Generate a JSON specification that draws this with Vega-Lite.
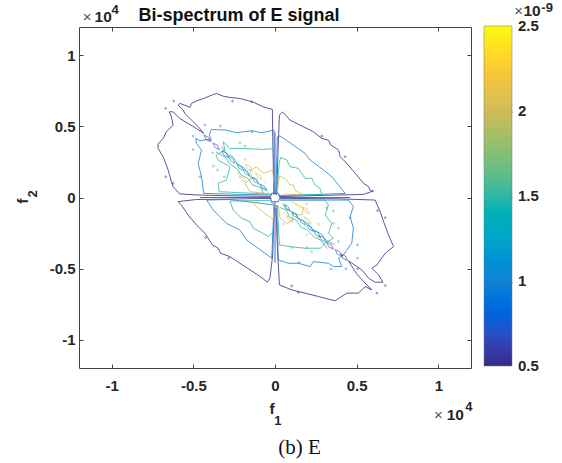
{
"$schema":"https://vega.github.io/schema/vega-lite/v6.json",
"width":392,"height":341,
"autosize":{"type":"none"},
"padding":{"left":79,"top":27,"right":91,"bottom":95},
"background":"white",
"config":{"view":{"stroke":"#444444","strokeWidth":1},"font":"Liberation Sans"},
"datasets":{
"contours":[
{"g":"tl0","l":0.5,"x":-0.006,"y":0.018},{"g":"tl0","l":0.5,"x":-0.01,"y":0.193},{"g":"tl0","l":0.5,"x":-0.014,"y":0.428},{"g":"tl0","l":0.5,"x":-0.016,"y":0.62},{"g":"tl0","l":0.5,"x":-0.072,"y":0.638},{"g":"tl0","l":0.5,"x":-0.137,"y":0.673},{"g":"tl0","l":0.5,"x":-0.215,"y":0.697},{"g":"tl0","l":0.5,"x":-0.276,"y":0.704},{"g":"tl0","l":0.5,"x":-0.317,"y":0.713},{"g":"tl0","l":0.5,"x":-0.358,"y":0.732},{"g":"tl0","l":0.5,"x":-0.389,"y":0.72},{"g":"tl0","l":0.5,"x":-0.436,"y":0.697},{"g":"tl0","l":0.5,"x":-0.481,"y":0.68},{"g":"tl0","l":0.5,"x":-0.511,"y":0.662},{"g":"tl0","l":0.5,"x":-0.521,"y":0.634},{"g":"tl0","l":0.5,"x":-0.552,"y":0.65},{"g":"tl0","l":0.5,"x":-0.583,"y":0.662},{"g":"tl0","l":0.5,"x":-0.593,"y":0.65},{"g":"tl0","l":0.5,"x":-0.562,"y":0.615},{"g":"tl0","l":0.5,"x":-0.552,"y":0.591},{"g":"tl0","l":0.5,"x":-0.511,"y":0.545},{"g":"tl0","l":0.5,"x":-0.47,"y":0.498},{"g":"tl0","l":0.5,"x":-0.436,"y":0.451},{"g":"tl0","l":0.5,"x":-0.481,"y":0.486},{"g":"tl0","l":0.5,"x":-0.532,"y":0.521},{"g":"tl0","l":0.5,"x":-0.583,"y":0.556},{"g":"tl0","l":0.5,"x":-0.624,"y":0.603},{"g":"tl0","l":0.5,"x":-0.648,"y":0.603},{"g":"tl0","l":0.5,"x":-0.634,"y":0.568},{"g":"tl0","l":0.5,"x":-0.624,"y":0.509},{"g":"tl0","l":0.5,"x":-0.665,"y":0.463},{"g":"tl0","l":0.5,"x":-0.685,"y":0.416},{"g":"tl0","l":0.5,"x":-0.716,"y":0.376},{"g":"tl0","l":0.5,"x":-0.716,"y":0.346},{"g":"tl0","l":0.5,"x":-0.685,"y":0.287},{"g":"tl0","l":0.5,"x":-0.654,"y":0.193},{"g":"tl0","l":0.5,"x":-0.634,"y":0.111},{"g":"tl0","l":0.5,"x":-0.624,"y":0.076},{"g":"tl0","l":0.5,"x":-0.583,"y":0.025},{"g":"tl0","l":0.5,"x":-0.481,"y":0.018},{"g":"tl0","l":0.5,"x":-0.276,"y":0.012},{"g":"tl0","l":0.5,"x":-0.031,"y":0.008},
{"g":"tr0","l":0.5,"x":0.01,"y":0.018},{"g":"tr0","l":0.5,"x":0.018,"y":0.31},{"g":"tr0","l":0.5,"x":0.027,"y":0.58},{"g":"tr0","l":0.5,"x":0.047,"y":0.603},{"g":"tr0","l":0.5,"x":0.092,"y":0.545},{"g":"tr0","l":0.5,"x":0.174,"y":0.498},{"g":"tr0","l":0.5,"x":0.235,"y":0.463},{"g":"tr0","l":0.5,"x":0.286,"y":0.416},{"g":"tr0","l":0.5,"x":0.327,"y":0.404},{"g":"tr0","l":0.5,"x":0.342,"y":0.369},{"g":"tr0","l":0.5,"x":0.389,"y":0.334},{"g":"tr0","l":0.5,"x":0.399,"y":0.287},{"g":"tr0","l":0.5,"x":0.44,"y":0.24},{"g":"tr0","l":0.5,"x":0.491,"y":0.17},{"g":"tr0","l":0.5,"x":0.542,"y":0.1},{"g":"tr0","l":0.5,"x":0.573,"y":0.076},{"g":"tr0","l":0.5,"x":0.583,"y":0.048},{"g":"tr0","l":0.5,"x":0.603,"y":0.046},{"g":"tr0","l":0.5,"x":0.542,"y":0.022},{"g":"tr0","l":0.5,"x":0.174,"y":0.011},{"g":"tr0","l":0.5,"x":0.031,"y":0.006},
{"g":"bl0","l":0.5,"x":-0.02,"y":-0.006},{"g":"bl0","l":0.5,"x":-0.276,"y":-0.011},{"g":"bl0","l":0.5,"x":-0.481,"y":-0.014},{"g":"bl0","l":0.5,"x":-0.593,"y":-0.029},{"g":"bl0","l":0.5,"x":-0.573,"y":-0.053},{"g":"bl0","l":0.5,"x":-0.532,"y":-0.123},{"g":"bl0","l":0.5,"x":-0.481,"y":-0.193},{"g":"bl0","l":0.5,"x":-0.429,"y":-0.252},{"g":"bl0","l":0.5,"x":-0.382,"y":-0.334},{"g":"bl0","l":0.5,"x":-0.348,"y":-0.357},{"g":"bl0","l":0.5,"x":-0.333,"y":-0.392},{"g":"bl0","l":0.5,"x":-0.276,"y":-0.416},{"g":"bl0","l":0.5,"x":-0.184,"y":-0.486},{"g":"bl0","l":0.5,"x":-0.112,"y":-0.54},{"g":"bl0","l":0.5,"x":-0.072,"y":-0.573},{"g":"bl0","l":0.5,"x":-0.047,"y":-0.596},{"g":"bl0","l":0.5,"x":-0.031,"y":-0.568},{"g":"bl0","l":0.5,"x":-0.014,"y":-0.404},{"g":"bl0","l":0.5,"x":-0.006,"y":-0.076},
{"g":"br0","l":0.5,"x":0.006,"y":-0.076},{"g":"br0","l":0.5,"x":0.014,"y":-0.334},{"g":"br0","l":0.5,"x":0.027,"y":-0.615},{"g":"br0","l":0.5,"x":0.102,"y":-0.65},{"g":"br0","l":0.5,"x":0.184,"y":-0.673},{"g":"br0","l":0.5,"x":0.266,"y":-0.697},{"g":"br0","l":0.5,"x":0.368,"y":-0.727},{"g":"br0","l":0.5,"x":0.44,"y":-0.673},{"g":"br0","l":0.5,"x":0.511,"y":-0.673},{"g":"br0","l":0.5,"x":0.552,"y":-0.627},{"g":"br0","l":0.5,"x":0.593,"y":-0.65},{"g":"br0","l":0.5,"x":0.542,"y":-0.591},{"g":"br0","l":0.5,"x":0.497,"y":-0.533},{"g":"br0","l":0.5,"x":0.45,"y":-0.446},{"g":"br0","l":0.5,"x":0.501,"y":-0.486},{"g":"br0","l":0.5,"x":0.532,"y":-0.51},{"g":"br0","l":0.5,"x":0.573,"y":-0.568},{"g":"br0","l":0.5,"x":0.613,"y":-0.596},{"g":"br0","l":0.5,"x":0.661,"y":-0.596},{"g":"br0","l":0.5,"x":0.634,"y":-0.545},{"g":"br0","l":0.5,"x":0.593,"y":-0.498},{"g":"br0","l":0.5,"x":0.624,"y":-0.474},{"g":"br0","l":0.5,"x":0.675,"y":-0.392},{"g":"br0","l":0.5,"x":0.726,"y":-0.346},{"g":"br0","l":0.5,"x":0.695,"y":-0.264},{"g":"br0","l":0.5,"x":0.665,"y":-0.17},{"g":"br0","l":0.5,"x":0.644,"y":-0.1},{"g":"br0","l":0.5,"x":0.613,"y":-0.018},{"g":"br0","l":0.5,"x":0.378,"y":-0.009},{"g":"br0","l":0.5,"x":0.031,"y":-0.006},
{"g":"tl1","l":1,"x":-0.006,"y":0.029},{"g":"tl1","l":1,"x":-0.006,"y":0.474},{"g":"tl1","l":1,"x":-0.082,"y":0.456},{"g":"tl1","l":1,"x":-0.143,"y":0.47},{"g":"tl1","l":1,"x":-0.235,"y":0.456},{"g":"tl1","l":1,"x":-0.297,"y":0.474},{"g":"tl1","l":1,"x":-0.389,"y":0.479},{"g":"tl1","l":1,"x":-0.403,"y":0.439},{"g":"tl1","l":1,"x":-0.389,"y":0.404},{"g":"tl1","l":1,"x":-0.415,"y":0.409},{"g":"tl1","l":1,"x":-0.46,"y":0.399},{"g":"tl1","l":1,"x":-0.485,"y":0.416},{"g":"tl1","l":1,"x":-0.481,"y":0.381},{"g":"tl1","l":1,"x":-0.45,"y":0.334},{"g":"tl1","l":1,"x":-0.47,"y":0.24},{"g":"tl1","l":1,"x":-0.45,"y":0.146},{"g":"tl1","l":1,"x":-0.436,"y":0.029},{"g":"tl1","l":1,"x":-0.215,"y":0.022},{"g":"tl1","l":1,"x":-0.02,"y":0.018},
{"g":"tr1","l":1,"x":0.006,"y":0.018},{"g":"tr1","l":1,"x":0.014,"y":0.428},{"g":"tr1","l":1,"x":0.031,"y":0.433},{"g":"tr1","l":1,"x":0.112,"y":0.369},{"g":"tr1","l":1,"x":0.184,"y":0.31},{"g":"tr1","l":1,"x":0.215,"y":0.264},{"g":"tr1","l":1,"x":0.276,"y":0.212},{"g":"tr1","l":1,"x":0.348,"y":0.146},{"g":"tr1","l":1,"x":0.43,"y":0.029},{"g":"tr1","l":1,"x":0.174,"y":0.018},{"g":"tr1","l":1,"x":0.02,"y":0.014},
{"g":"bl1","l":1,"x":-0.419,"y":-0.018},{"g":"bl1","l":1,"x":-0.378,"y":-0.088},{"g":"bl1","l":1,"x":-0.297,"y":-0.182},{"g":"bl1","l":1,"x":-0.215,"y":-0.229},{"g":"bl1","l":1,"x":-0.174,"y":-0.299},{"g":"bl1","l":1,"x":-0.102,"y":-0.358},{"g":"bl1","l":1,"x":-0.02,"y":-0.427},{"g":"bl1","l":1,"x":-0.006,"y":-0.053},{"g":"bl1","l":1,"x":-0.276,"y":-0.014},{"g":"bl1","l":1,"x":-0.419,"y":-0.018},
{"g":"br1","l":1,"x":0.01,"y":-0.053},{"g":"br1","l":1,"x":0.02,"y":-0.439},{"g":"br1","l":1,"x":0.082,"y":-0.463},{"g":"br1","l":1,"x":0.143,"y":-0.463},{"g":"br1","l":1,"x":0.215,"y":-0.486},{"g":"br1","l":1,"x":0.235,"y":-0.451},{"g":"br1","l":1,"x":0.327,"y":-0.463},{"g":"br1","l":1,"x":0.358,"y":-0.486},{"g":"br1","l":1,"x":0.409,"y":-0.486},{"g":"br1","l":1,"x":0.389,"y":-0.427},{"g":"br1","l":1,"x":0.419,"y":-0.404},{"g":"br1","l":1,"x":0.47,"y":-0.322},{"g":"br1","l":1,"x":0.48,"y":-0.217},{"g":"br1","l":1,"x":0.46,"y":-0.135},{"g":"br1","l":1,"x":0.48,"y":-0.064},{"g":"br1","l":1,"x":0.45,"y":-0.018},{"g":"br1","l":1,"x":0.03,"y":-0.018},
{"g":"tl2","l":1.5,"x":-0.006,"y":0.345},{"g":"tl2","l":1.5,"x":-0.072,"y":0.338},{"g":"tl2","l":1.5,"x":-0.194,"y":0.345},{"g":"tl2","l":1.5,"x":-0.276,"y":0.345},{"g":"tl2","l":1.5,"x":-0.317,"y":0.392},{"g":"tl2","l":1.5,"x":-0.307,"y":0.333},{"g":"tl2","l":1.5,"x":-0.362,"y":0.298},{"g":"tl2","l":1.5,"x":-0.348,"y":0.263},{"g":"tl2","l":1.5,"x":-0.276,"y":0.216},{"g":"tl2","l":1.5,"x":-0.297,"y":0.123},{"g":"tl2","l":1.5,"x":-0.348,"y":0.1},{"g":"tl2","l":1.5,"x":-0.342,"y":0.041},{"g":"tl2","l":1.5,"x":-0.031,"y":0.024},
{"g":"tr2","l":1.5,"x":0.01,"y":0.025},{"g":"tr2","l":1.5,"x":0.027,"y":0.252},{"g":"tr2","l":1.5,"x":0.035,"y":0.282},{"g":"tr2","l":1.5,"x":0.072,"y":0.264},{"g":"tr2","l":1.5,"x":0.092,"y":0.217},{"g":"tr2","l":1.5,"x":0.143,"y":0.205},{"g":"tr2","l":1.5,"x":0.184,"y":0.135},{"g":"tr2","l":1.5,"x":0.225,"y":0.135},{"g":"tr2","l":1.5,"x":0.245,"y":0.088},{"g":"tr2","l":1.5,"x":0.276,"y":0.064},{"g":"tr2","l":1.5,"x":0.286,"y":0.022},{"g":"tr2","l":1.5,"x":0.092,"y":0.018},
{"g":"bl2","l":1.5,"x":-0.276,"y":-0.025},{"g":"bl2","l":1.5,"x":-0.256,"y":-0.088},{"g":"bl2","l":1.5,"x":-0.204,"y":-0.146},{"g":"bl2","l":1.5,"x":-0.153,"y":-0.17},{"g":"bl2","l":1.5,"x":-0.133,"y":-0.217},{"g":"bl2","l":1.5,"x":-0.092,"y":-0.24},{"g":"bl2","l":1.5,"x":-0.041,"y":-0.275},{"g":"bl2","l":1.5,"x":-0.01,"y":-0.24},{"g":"bl2","l":1.5,"x":-0.006,"y":-0.053},{"g":"bl2","l":1.5,"x":-0.03,"y":-0.02},{"g":"bl2","l":1.5,"x":-0.276,"y":-0.025},
{"g":"br2","l":1.5,"x":0.014,"y":-0.053},{"g":"br2","l":1.5,"x":0.027,"y":-0.334},{"g":"br2","l":1.5,"x":0.092,"y":-0.346},{"g":"br2","l":1.5,"x":0.184,"y":-0.357},{"g":"br2","l":1.5,"x":0.276,"y":-0.357},{"g":"br2","l":1.5,"x":0.307,"y":-0.322},{"g":"br2","l":1.5,"x":0.358,"y":-0.287},{"g":"br2","l":1.5,"x":0.327,"y":-0.252},{"g":"br2","l":1.5,"x":0.348,"y":-0.182},{"g":"br2","l":1.5,"x":0.307,"y":-0.123},{"g":"br2","l":1.5,"x":0.327,"y":-0.053},{"g":"br2","l":1.5,"x":0.307,"y":-0.018},{"g":"br2","l":1.5,"x":0.03,"y":-0.018},
{"g":"tl3","l":2,"x":-0.006,"y":0.088},{"g":"tl3","l":2,"x":-0.014,"y":0.193},{"g":"tl3","l":2,"x":-0.072,"y":0.17},{"g":"tl3","l":2,"x":-0.112,"y":0.216},{"g":"tl3","l":2,"x":-0.153,"y":0.193},{"g":"tl3","l":2,"x":-0.143,"y":0.135},{"g":"tl3","l":2,"x":-0.184,"y":0.1},{"g":"tl3","l":2,"x":-0.153,"y":0.041},{"g":"tl3","l":2,"x":-0.02,"y":0.024},
{"g":"tr3","l":2,"x":0.014,"y":0.029},{"g":"tr3","l":2,"x":0.027,"y":0.151},{"g":"tr3","l":2,"x":0.061,"y":0.135},{"g":"tr3","l":2,"x":0.092,"y":0.088},{"g":"tr3","l":2,"x":0.112,"y":0.088},{"g":"tr3","l":2,"x":0.123,"y":0.053},{"g":"tr3","l":2,"x":0.164,"y":0.022},{"g":"tr3","l":2,"x":0.051,"y":0.018},
{"g":"bl3","l":2,"x":-0.153,"y":-0.018},{"g":"bl3","l":2,"x":-0.102,"y":-0.076},{"g":"bl3","l":2,"x":-0.051,"y":-0.123},{"g":"bl3","l":2,"x":-0.01,"y":-0.151},{"g":"bl3","l":2,"x":-0.006,"y":-0.029},
{"g":"br3","l":2,"x":0.02,"y":-0.053},{"g":"br3","l":2,"x":0.031,"y":-0.146},{"g":"br3","l":2,"x":0.072,"y":-0.182},{"g":"br3","l":2,"x":0.112,"y":-0.158},{"g":"br3","l":2,"x":0.102,"y":-0.111},{"g":"br3","l":2,"x":0.164,"y":-0.123},{"g":"br3","l":2,"x":0.174,"y":-0.076},{"g":"br3","l":2,"x":0.102,"y":-0.029},
{"g":"du","l":1.5,"x":-0.33,"y":0.36},{"g":"du","l":1.5,"x":-0.29,"y":0.3},{"g":"du","l":1.5,"x":-0.26,"y":0.29},{"g":"du","l":1.5,"x":-0.22,"y":0.22},{"g":"du","l":1.5,"x":-0.19,"y":0.21},{"g":"du","l":1.5,"x":-0.15,"y":0.14},{"g":"du","l":1.5,"x":-0.12,"y":0.13},{"g":"du","l":1.5,"x":-0.08,"y":0.07},{"g":"du","l":1.5,"x":-0.05,"y":0.06},
{"g":"dv","l":1.5,"x":-0.36,"y":0.32},{"g":"dv","l":1.5,"x":-0.3,"y":0.28},{"g":"dv","l":1.5,"x":-0.28,"y":0.24},{"g":"dv","l":1.5,"x":-0.23,"y":0.2},{"g":"dv","l":1.5,"x":-0.21,"y":0.16},{"g":"dv","l":1.5,"x":-0.16,"y":0.13},{"g":"dv","l":1.5,"x":-0.14,"y":0.09},{"g":"dv","l":1.5,"x":-0.09,"y":0.07},{"g":"dv","l":1.5,"x":-0.07,"y":0.03},
{"g":"dw","l":1.5,"x":0.36,"y":-0.33},{"g":"dw","l":1.5,"x":0.3,"y":-0.29},{"g":"dw","l":1.5,"x":0.29,"y":-0.26},{"g":"dw","l":1.5,"x":0.22,"y":-0.22},{"g":"dw","l":1.5,"x":0.21,"y":-0.19},{"g":"dw","l":1.5,"x":0.14,"y":-0.15},{"g":"dw","l":1.5,"x":0.13,"y":-0.12},{"g":"dw","l":1.5,"x":0.07,"y":-0.08},{"g":"dw","l":1.5,"x":0.06,"y":-0.05},
{"g":"dx","l":1.5,"x":0.32,"y":-0.36},{"g":"dx","l":1.5,"x":0.28,"y":-0.3},{"g":"dx","l":1.5,"x":0.24,"y":-0.28},{"g":"dx","l":1.5,"x":0.2,"y":-0.23},{"g":"dx","l":1.5,"x":0.16,"y":-0.21},{"g":"dx","l":1.5,"x":0.13,"y":-0.16},{"g":"dx","l":1.5,"x":0.09,"y":-0.14},{"g":"dx","l":1.5,"x":0.07,"y":-0.09},{"g":"dx","l":1.5,"x":0.03,"y":-0.07},
{"g":"h1","l":0.6,"x":-0.46,"y":0},{"g":"h1","l":0.6,"x":-0.03,"y":0},
{"g":"h2","l":0.6,"x":0.03,"y":0},{"g":"h2","l":0.6,"x":0.46,"y":0},
{"g":"v1","l":0.6,"x":0,"y":0.46},{"g":"v1","l":0.6,"x":0,"y":0.03},
{"g":"v2","l":0.6,"x":0,"y":-0.03},{"g":"v2","l":0.6,"x":0,"y":-0.46},
{"g":"hub","l":0.7,"x":-0.03,"y":0},{"g":"hub","l":0.7,"x":-0.02,"y":0.03},{"g":"hub","l":0.7,"x":0.02,"y":0.03},{"g":"hub","l":0.7,"x":0.03,"y":0},{"g":"hub","l":0.7,"x":0.02,"y":-0.03},{"g":"hub","l":0.7,"x":-0.02,"y":-0.03},{"g":"hub","l":0.7,"x":-0.03,"y":0}
],
"loops":[
{"l":0.5,"x":-0.415,"y":0.416},{"l":0.6,"x":-0.36,"y":0.36},{"l":0.7,"x":-0.305,"y":0.305},{"l":0.9,"x":-0.265,"y":0.265},{"l":1,"x":-0.215,"y":0.215},{"l":1,"x":-0.175,"y":0.175},{"l":1,"x":-0.12,"y":0.12},{"l":0.9,"x":-0.07,"y":0.07},
{"l":0.5,"x":0.423,"y":-0.42},{"l":0.6,"x":0.389,"y":-0.39},{"l":0.6,"x":0.337,"y":-0.34},{"l":0.7,"x":0.292,"y":-0.29},{"l":0.8,"x":0.256,"y":-0.255},{"l":0.9,"x":0.215,"y":-0.215},{"l":1,"x":0.168,"y":-0.17},{"l":0.9,"x":0.123,"y":-0.123},{"l":0.9,"x":0.072,"y":-0.07},
{"l":2,"x":-0.16,"y":0.21},{"l":2,"x":-0.2,"y":0.13},{"l":2,"x":0.09,"y":-0.15},{"l":2,"x":0.19,"y":-0.09},{"l":2,"x":0.2,"y":-0.16},{"l":2,"x":-0.1,"y":0.15}
],
"dots":[
{"l":0.5,"x":-0.62,"y":0.678},{"l":0.5,"x":-0.67,"y":0.627},{"l":0.5,"x":-0.142,"y":0.673},{"l":0.5,"x":-0.26,"y":0.678},{"l":0.5,"x":-0.624,"y":0.1},{"l":0.5,"x":-0.669,"y":0.146},
{"l":1,"x":-0.43,"y":0.51},{"l":1,"x":-0.334,"y":0.503},{"l":1,"x":-0.142,"y":0.463},{"l":1,"x":-0.501,"y":0.432},{"l":1,"x":-0.501,"y":0.338},{"l":1,"x":-0.46,"y":0.146},
{"l":1.5,"x":-0.215,"y":0.386},{"l":1.5,"x":-0.184,"y":0.362},{"l":1.5,"x":-0.382,"y":0.315},{"l":1.5,"x":-0.352,"y":0.193},{"l":1.5,"x":-0.31,"y":0.146},{"l":1.5,"x":-0.378,"y":0.22},
{"l":2,"x":-0.184,"y":0.268},{"l":2,"x":-0.225,"y":0.17},
{"l":2.5,"x":-0.1,"y":0.06},{"l":2.5,"x":-0.06,"y":0.11},{"l":2.5,"x":0.06,"y":-0.11},{"l":2.5,"x":0.14,"y":-0.06},{"l":2.5,"x":0.045,"y":-0.04},{"l":2.5,"x":-0.045,"y":0.04},
{"l":0.5,"x":0.286,"y":0.432},{"l":0.5,"x":0.429,"y":0.287},
{"l":0.5,"x":-0.425,"y":-0.282},{"l":0.5,"x":-0.284,"y":-0.427},
{"l":0.5,"x":0.675,"y":-0.142},{"l":0.5,"x":0.628,"y":-0.093},{"l":0.5,"x":0.505,"y":-0.502},{"l":0.5,"x":0.624,"y":-0.673},{"l":0.5,"x":0.143,"y":-0.669},{"l":0.5,"x":0.675,"y":-0.62},{"l":0.5,"x":0.102,"y":-0.622},
{"l":1,"x":0.147,"y":-0.458},{"l":1,"x":0.46,"y":-0.142},{"l":1,"x":0.505,"y":-0.334},{"l":1,"x":0.505,"y":-0.427},{"l":1,"x":0.434,"y":-0.502},{"l":1,"x":0.342,"y":-0.502},
{"l":1.5,"x":0.358,"y":-0.095},{"l":1.5,"x":0.358,"y":-0.182},{"l":1.5,"x":0.389,"y":-0.217},{"l":1.5,"x":0.389,"y":-0.31},{"l":1.5,"x":0.225,"y":-0.381},{"l":1.5,"x":0.194,"y":-0.352},{"l":1.5,"x":0.102,"y":-0.352},{"l":1.5,"x":0.317,"y":-0.071},
{"l":2,"x":0.194,"y":-0.046},{"l":2,"x":0.051,"y":-0.188},{"l":2,"x":0.266,"y":-0.188},{"l":2,"x":0.194,"y":-0.263},{"l":2,"x":0.266,"y":-0.287}
],
"base":[{"x":1.104,"y":-1.528,"t":"10"},{"x":-1.052,"y":1.268,"t":"10"},{"x":1.574,"y":1.31,"t":"10"},{"x":-0.018,"y":-1.486,"t":"f"}],
"sup":[{"x":1.187,"y":-1.472,"t":"4"},{"x":-0.979,"y":1.318,"t":"4"},{"x":1.666,"y":1.335,"t":"-9"},{"x":0.018,"y":-1.572,"t":"1"}],
"times":[{"x":1,"y":-1.528,"t":"×"},{"x":-1.15,"y":1.268,"t":"×"},{"x":1.491,"y":1.31,"t":"×"}],
"yf":[{"x":-1.54,"y":-0.025,"t":"f"}],
"y2":[{"x":-1.479,"y":0.025,"t":"2"}],
"heading":[{"x":-0.22,"y":1.279,"t":"Bi-spectrum of E signal"}],
"caption":[{"x":0.15,"y":-1.76,"t":"(b) E"}],
"bticks":[{"x":1.436,"x2":1.454,"y":0.6},{"x":1.436,"x2":1.454,"y":0},{"x":1.436,"x2":1.454,"y":-0.6}]
},
"layer":[
{"data":{"name":"contours"},
"mark":{"type":"line","order":false,"strokeWidth":1,"strokeOpacity":0.8,"clip":true},
"encoding":{
"x":{"field":"x","type":"quantitative","scale":{"domain":[-1.2,1.2],"nice":false,"zero":false},
"axis":{"orient":"bottom","values":[-1,-0.5,0,0.5,1],"labelExpr":"'' + datum.value","grid":false,"domain":false,"tickSize":-4,"tickColor":"#444444","labelFontSize":15,"labelFontWeight":"bold","labelColor":"#262626","labelFont":"Liberation Sans","labelPadding":14,"title":null}},
"y":{"field":"y","type":"quantitative","scale":{"domain":[-1.2,1.2],"nice":false,"zero":false},
"axis":{"orient":"left","values":[-1,-0.5,0,0.5,1],"labelExpr":"'' + datum.value","grid":false,"domain":false,"tickSize":-4,"tickColor":"#444444","labelFontSize":15,"labelFontWeight":"bold","labelColor":"#262626","labelFont":"Liberation Sans","labelPadding":8,"title":null}},
"color":{"field":"l","type":"quantitative","scale":{"domain":[0.5,2.5],"range":["#352a87","#0f5cdd","#1481d6","#06a4ca","#2eb7a4","#87bf77","#d1bb59","#fec832","#f9fb0e"]},
"legend":{"type":"gradient","orient":"none","legendX":405,"legendY":-1,"direction":"vertical","gradientLength":340,"gradientThickness":28,"values":[0.5,1,1.5,2,2.5],"format":"~g","gradientStrokeColor":"#777777","gradientStrokeWidth":0.5,"labelFontSize":15,"labelFontWeight":"bold","labelColor":"#262626","labelFont":"Liberation Sans","labelOffset":6,"title":null,
"encoding":{"gradient":{"opacity":{"value":1}},"labels":{"baseline":{"value":"middle"}}}}},
"detail":{"field":"g","type":"nominal"}}},
{"data":{"name":"loops"},
"mark":{"type":"point","shape":"M -1 -1 L 0.35 -0.35 L 1 1 L -0.35 0.35 Z","filled":false,"size":45,"strokeWidth":1,"strokeOpacity":0.85},
"encoding":{
"x":{"field":"x","type":"quantitative","axis":{"orient":"top","values":[-1,-0.5,0,0.5,1],"labels":false,"grid":false,"domain":false,"tickSize":-4,"tickColor":"#444444","title":null}},
"y":{"field":"y","type":"quantitative","axis":{"orient":"right","values":[-1,-0.5,0,0.5,1],"labels":false,"grid":false,"domain":false,"tickSize":-4,"tickColor":"#444444","title":null}},
"color":{"field":"l","type":"quantitative"}}},
{"data":{"name":"dots"},
"mark":{"type":"point","filled":false,"size":3,"strokeWidth":1,"strokeOpacity":0.8},
"encoding":{
"x":{"field":"x","type":"quantitative","axis":null},
"y":{"field":"y","type":"quantitative","axis":null},
"color":{"field":"l","type":"quantitative"}}},
{"data":{"name":"base"},
"mark":{"type":"text","fontSize":15.5,"fontWeight":"bold","font":"Liberation Sans","color":"#262626","clip":false},
"encoding":{"x":{"field":"x","type":"quantitative","axis":null},"y":{"field":"y","type":"quantitative","axis":null},"text":{"field":"t"}}},
{"data":{"name":"sup"},
"mark":{"type":"text","fontSize":13,"fontWeight":"bold","font":"Liberation Sans","color":"#262626","clip":false},
"encoding":{"x":{"field":"x","type":"quantitative","axis":null},"y":{"field":"y","type":"quantitative","axis":null},"text":{"field":"t"}}},
{"data":{"name":"times"},
"mark":{"type":"text","fontSize":15,"font":"Liberation Sans","color":"#555555","clip":false},
"encoding":{"x":{"field":"x","type":"quantitative","axis":null},"y":{"field":"y","type":"quantitative","axis":null},"text":{"field":"t"}}},
{"data":{"name":"yf"},
"mark":{"type":"text","angle":270,"fontSize":15.5,"fontWeight":"bold","font":"Liberation Sans","color":"#262626","clip":false},
"encoding":{"x":{"field":"x","type":"quantitative","axis":null},"y":{"field":"y","type":"quantitative","axis":null},"text":{"field":"t"}}},
{"data":{"name":"y2"},
"mark":{"type":"text","angle":270,"fontSize":13,"fontWeight":"bold","font":"Liberation Sans","color":"#262626","clip":false},
"encoding":{"x":{"field":"x","type":"quantitative","axis":null},"y":{"field":"y","type":"quantitative","axis":null},"text":{"field":"t"}}},
{"data":{"name":"heading"},
"mark":{"type":"text","fontSize":18,"fontWeight":"bold","font":"Liberation Sans","color":"#111111","clip":false},
"encoding":{"x":{"field":"x","type":"quantitative","axis":null},"y":{"field":"y","type":"quantitative","axis":null},"text":{"field":"t"}}},
{"data":{"name":"caption"},
"mark":{"type":"text","fontSize":21,"font":"Liberation Serif","color":"#111111","clip":false},
"encoding":{"x":{"field":"x","type":"quantitative","axis":null},"y":{"field":"y","type":"quantitative","axis":null},"text":{"field":"t"}}},
{"data":{"name":"bticks"},
"mark":{"type":"rule","color":"#555555","strokeWidth":1,"clip":false},
"encoding":{"x":{"field":"x","type":"quantitative","axis":null},"x2":{"field":"x2"},"y":{"field":"y","type":"quantitative","axis":null}}}
],
"resolve":{"axis":{"x":"independent","y":"independent"}}
}
